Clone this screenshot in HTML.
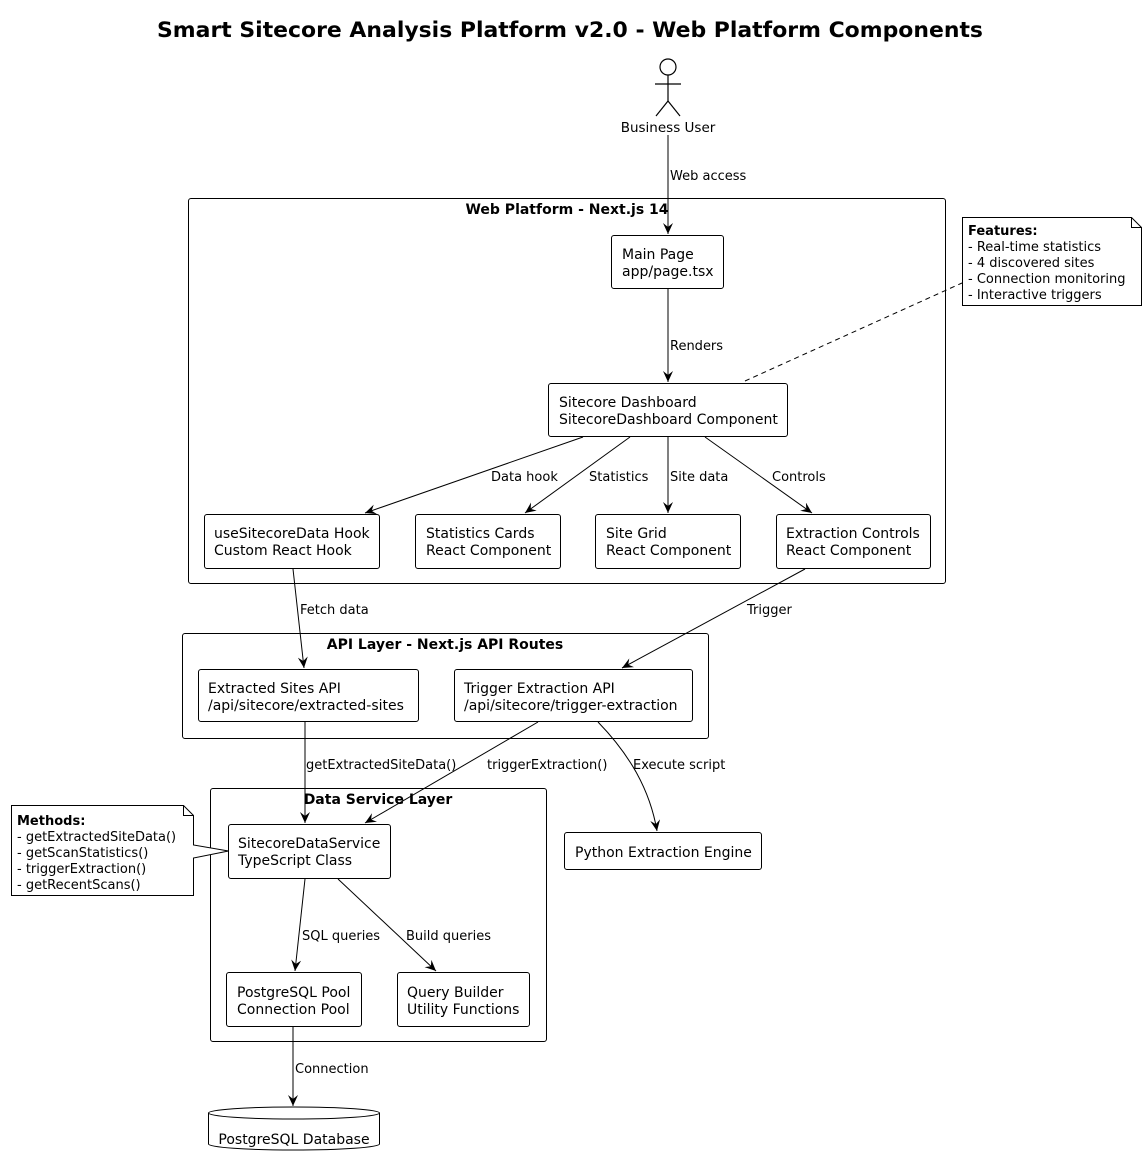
<!DOCTYPE html>
<html><head><meta charset="utf-8"><style>
html,body{margin:0;padding:0;background:#fff;}
svg{display:block;font-family:"DejaVu Sans","Liberation Sans",sans-serif;}
</style></head><body>
<svg width="1147" height="1167" viewBox="0 0 1147 1167" xmlns="http://www.w3.org/2000/svg">
<defs>
<marker id="a" markerWidth="12" markerHeight="10" refX="11" refY="5" orient="auto" markerUnits="userSpaceOnUse">
<path d="M0,0 L11,5 L0,10 L4,5 Z" fill="#000"/>
</marker>
</defs>
<rect width="1147" height="1167" fill="#fff"/>
<text x="570" y="37" text-anchor="middle" font-size="21" font-weight="bold" textLength="826" lengthAdjust="spacingAndGlyphs">Smart Sitecore Analysis Platform v2.0 - Web Platform Components</text>

<!-- actor -->
<g stroke="#000" stroke-width="1.2" fill="#fff">
<circle cx="668" cy="67" r="8"/>
<line x1="668" y1="75" x2="668" y2="101"/>
<line x1="655" y1="84" x2="681" y2="84"/>
<line x1="668" y1="101" x2="656" y2="116"/>
<line x1="668" y1="101" x2="680" y2="116"/>
</g>
<text x="668" y="132" text-anchor="middle" font-size="13.5">Business User</text>

<g fill="none" stroke="#000" stroke-width="1">
<rect x="188.5" y="198.5" width="757" height="385" rx="2.5"/>
<rect x="182.5" y="633.5" width="526" height="105" rx="2.5"/>
<rect x="210.5" y="788.5" width="336" height="253" rx="2.5"/>
</g>
<g font-size="14" font-weight="bold" text-anchor="middle">
<text x="567" y="214">Web Platform - Next.js 14</text>
<text x="445" y="649">API Layer - Next.js API Routes</text>
<text x="378" y="804">Data Service Layer</text>
</g>

<g fill="#fff" stroke="#000" stroke-width="1">
<rect x="611.5" y="235.5" width="112" height="53" rx="2.5"/>
<rect x="548.5" y="383.5" width="239" height="53" rx="2.5"/>
<rect x="204.5" y="514.5" width="175" height="54" rx="2.5"/>
<rect x="415.5" y="514.5" width="145" height="54" rx="2.5"/>
<rect x="595.5" y="514.5" width="145" height="54" rx="2.5"/>
<rect x="776.5" y="514.5" width="154" height="54" rx="2.5"/>
<rect x="198.5" y="669.5" width="220" height="52" rx="2.5"/>
<rect x="454.5" y="669.5" width="238" height="52" rx="2.5"/>
<rect x="228.5" y="824.5" width="162" height="54" rx="2.5"/>
<rect x="564.5" y="832.5" width="197" height="37" rx="2.5"/>
<rect x="226.5" y="972.5" width="135" height="54" rx="2.5"/>
<rect x="397.5" y="972.5" width="132" height="54" rx="2.5"/>
</g>
<g font-size="14">
<text x="622" y="259">Main Page</text><text x="622" y="276">app/page.tsx</text>
<text x="559" y="407">Sitecore Dashboard</text><text x="559" y="424">SitecoreDashboard Component</text>
<text x="214" y="538">useSitecoreData Hook</text><text x="214" y="555">Custom React Hook</text>
<text x="426" y="538">Statistics Cards</text><text x="426" y="555">React Component</text>
<text x="606" y="538">Site Grid</text><text x="606" y="555">React Component</text>
<text x="786" y="538">Extraction Controls</text><text x="786" y="555">React Component</text>
<text x="208" y="693">Extracted Sites API</text><text x="208" y="710">/api/sitecore/extracted-sites</text>
<text x="464" y="693">Trigger Extraction API</text><text x="464" y="710">/api/sitecore/trigger-extraction</text>
<text x="238" y="848">SitecoreDataService</text><text x="238" y="865">TypeScript Class</text>
<text x="575" y="857">Python Extraction Engine</text>
<text x="237" y="997">PostgreSQL Pool</text><text x="237" y="1014">Connection Pool</text>
<text x="407" y="997">Query Builder</text><text x="407" y="1014">Utility Functions</text>
</g>

<!-- notes -->
<g fill="#fff" stroke="#000" stroke-width="1">
<path d="M962.5,217.5 H1131.5 L1141.5,227.5 V305.5 H962.5 Z"/>
<path d="M1131.5,217.5 V227.5 H1141.5" fill="none"/>
<path d="M11.5,805.5 H183.5 L193.5,815.5 V845 L228.5,851 L193.5,858 V895.5 H11.5 Z"/>
<path d="M183.5,805.5 V815.5 H193.5" fill="none"/>
</g>
<line x1="745" y1="381" x2="962" y2="283" stroke="#000" stroke-dasharray="5,4"/>
<g font-size="13">
<text x="968" y="235" font-weight="bold">Features:</text>
<text x="968" y="251">- Real-time statistics</text>
<text x="968" y="267">- 4 discovered sites</text>
<text x="968" y="283">- Connection monitoring</text>
<text x="968" y="299">- Interactive triggers</text>
<text x="17" y="825" font-weight="bold">Methods:</text>
<text x="17" y="841">- getExtractedSiteData()</text>
<text x="17" y="857">- getScanStatistics()</text>
<text x="17" y="873">- triggerExtraction()</text>
<text x="17" y="889">- getRecentScans()</text>
</g>

<!-- arrows -->
<g stroke="#000" stroke-width="1" fill="none" marker-end="url(#a)">
<line x1="668" y1="135" x2="668" y2="234"/>
<line x1="668" y1="289" x2="668" y2="382"/>
<line x1="583" y1="437" x2="365" y2="513"/>
<line x1="630" y1="437" x2="525" y2="513"/>
<line x1="668" y1="437" x2="668" y2="513"/>
<line x1="705" y1="437" x2="812" y2="513"/>
<line x1="293" y1="569" x2="304" y2="668"/>
<line x1="805" y1="569" x2="622" y2="668"/>
<line x1="305" y1="722" x2="305" y2="823"/>
<line x1="538" y1="722" x2="365" y2="823"/>
<path d="M598,722 C630,755 650,790 657,831"/>
<line x1="305" y1="879" x2="295" y2="971"/>
<line x1="338" y1="879" x2="436" y2="971"/>
<line x1="293" y1="1027" x2="293" y2="1106"/>
</g>
<g font-size="13">
<text x="670" y="180">Web access</text>
<text x="670" y="350">Renders</text>
<text x="491" y="481">Data hook</text>
<text x="589" y="481">Statistics</text>
<text x="670" y="481">Site data</text>
<text x="772" y="481">Controls</text>
<text x="300" y="614">Fetch data</text>
<text x="747" y="614">Trigger</text>
<text x="306" y="769">getExtractedSiteData()</text>
<text x="487" y="769">triggerExtraction()</text>
<text x="633" y="769">Execute script</text>
<text x="302" y="940">SQL queries</text>
<text x="406" y="940">Build queries</text>
<text x="295" y="1073">Connection</text>
</g>

<!-- database -->
<g fill="#fff" stroke="#000" stroke-width="1">
<path d="M208.5,1113 V1144 A85.5,6 0 0 0 379.5,1144 V1113 A85.5,6 0 0 0 208.5,1113 Z"/>
<path d="M208.5,1113 A85.5,6 0 0 0 379.5,1113" fill="none"/>
</g>
<text x="294" y="1144" text-anchor="middle" font-size="14">PostgreSQL Database</text>
</svg>
</body></html>
